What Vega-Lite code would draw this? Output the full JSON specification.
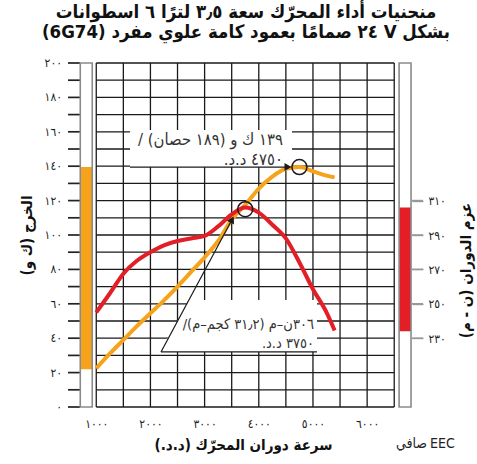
{
  "$schema": "https://vega.github.io/schema/vega-lite/v6.json",
  "autosize": {"type": "none"},
  "padding": {"left": 80, "top": 63, "right": 65, "bottom": 57},
  "width": 332,
  "height": 344,
  "background": "white",
  "config": {
    "view": {"stroke": null},
    "font": "DejaVu Sans Condensed, DejaVu Sans",
    "axis": {"labelFont": "DejaVu Sans Condensed, DejaVu Sans", "titleFont": "DejaVu Sans Condensed, DejaVu Sans", "labelOverlap": false}
  },
  "title": {
    "text": ["\u202bمنحنيات أداء المحرّك سعة ٣٫٥ لترًا ٦ اسطوانات\u202c", "\u202bبشكل V ٢٤ صمامًا بعمود كامة علوي مفرد (6G74)\u202c"],
    "font": "DejaVu Sans Condensed, DejaVu Sans",
    "fontSize": 18.5,
    "fontWeight": "bold",
    "color": "#111111",
    "anchor": "middle",
    "frame": "group",
    "dx": 0,
    "offset": 16,
    "lineHeight": 20
  },
  "datasets": {
    "power": [
      {"rpm": 1000, "kw": 22.5}, {"rpm": 1250, "kw": 31}, {"rpm": 1500, "kw": 39},
      {"rpm": 1750, "kw": 47}, {"rpm": 2000, "kw": 54.5}, {"rpm": 2250, "kw": 62},
      {"rpm": 2500, "kw": 70}, {"rpm": 2750, "kw": 78.5}, {"rpm": 3000, "kw": 87},
      {"rpm": 3250, "kw": 96.5}, {"rpm": 3500, "kw": 109}, {"rpm": 3750, "kw": 117.5},
      {"rpm": 4000, "kw": 127}, {"rpm": 4250, "kw": 134}, {"rpm": 4500, "kw": 138.5},
      {"rpm": 4750, "kw": 139.5}, {"rpm": 5000, "kw": 137}, {"rpm": 5250, "kw": 134.5},
      {"rpm": 5400, "kw": 133.5}
    ],
    "torque": [
      {"rpm": 1000, "nm": 245}, {"rpm": 1250, "nm": 256}, {"rpm": 1500, "nm": 267.5},
      {"rpm": 1750, "nm": 275}, {"rpm": 2000, "nm": 280}, {"rpm": 2250, "nm": 284},
      {"rpm": 2500, "nm": 286.5}, {"rpm": 2750, "nm": 288}, {"rpm": 3000, "nm": 289.5},
      {"rpm": 3250, "nm": 295}, {"rpm": 3500, "nm": 302}, {"rpm": 3750, "nm": 306},
      {"rpm": 4000, "nm": 303}, {"rpm": 4250, "nm": 296}, {"rpm": 4500, "nm": 288},
      {"rpm": 4750, "nm": 274}, {"rpm": 5000, "nm": 258.5}, {"rpm": 5250, "nm": 245},
      {"rpm": 5400, "nm": 234.5}
    ],
    "gridX": [
      {"r": 1000}, {"r": 1500}, {"r": 2000}, {"r": 2500}, {"r": 3000}, {"r": 3500},
      {"r": 4000}, {"r": 4500}, {"r": 5000}, {"r": 5500}, {"r": 6000}, {"r": 6500}
    ],
    "gridY": [
      {"v": 0}, {"v": 10}, {"v": 20}, {"v": 30}, {"v": 40}, {"v": 50}, {"v": 60},
      {"v": 70}, {"v": 80}, {"v": 90}, {"v": 100}, {"v": 110}, {"v": 120}, {"v": 130},
      {"v": 140}, {"v": 150}, {"v": 160}, {"v": 170}, {"v": 180}, {"v": 190}, {"v": 200}
    ],
    "powerLabels": [
      {"v": 0, "lab": "٠"}, {"v": 20, "lab": "٢٠"}, {"v": 40, "lab": "٤٠"}, {"v": 60, "lab": "٦٠"},
      {"v": 80, "lab": "٨٠"}, {"v": 100, "lab": "١٠٠"}, {"v": 120, "lab": "١٢٠"}, {"v": 140, "lab": "١٤٠"},
      {"v": 160, "lab": "١٦٠"}, {"v": 180, "lab": "١٨٠"}, {"v": 200, "lab": "٢٠٠"}
    ],
    "torqueTicks": [{"t": 230}, {"t": 250}, {"t": 270}, {"t": 290}, {"t": 310}],
    "powerRange": [{"lo": 22, "hi": 139.5}],
    "torqueRange": [{"lo": 234, "hi": 306}],
    "powerPeak": [{"rpm": 4750, "kw": 139.5}],
    "torquePeak": [{"rpm": 3750, "nm": 305}]
  },
  "layer": [
    {
      "layer": [
        {
          "data": {"name": "gridY"},
          "mark": {"type": "rule", "stroke": "#1a1a1a", "strokeWidth": 1.3},
          "encoding": {
            "y": {
              "field": "v", "type": "quantitative",
              "scale": {"domain": [0, 200], "nice": false, "zero": false},
              "axis": {
                "orient": "left",
                "values": [0, 20, 40, 60, 80, 100, 120, 140, 160, 180, 200],
                "labels": false,
                "grid": false, "domain": false, "ticks": false,
                "title": "\u202bالخرج (ك و)\u202c",
                "titleFontSize": 15, "titleFontWeight": "bold", "titleColor": "#111111",
                "titleAngle": -90, "titleX": -54, "titleY": 172,
                "titleAlign": "center", "titleBaseline": "middle"
              }
            },
            "x": {
              "datum": 1000, "type": "quantitative",
              "scale": {"domain": [700, 6828], "nice": false, "zero": false},
              "axis": {
                "orient": "bottom",
                "values": [1000, 2000, 3000, 4000, 5000, 6000],
                "format": "d",
                "labelExpr": "join(split(join(split(join(split(join(split(join(split(join(split(join(split(join(split(join(split(join(split(datum.label,'0'),'٠'),'1'),'١'),'2'),'٢'),'3'),'٣'),'4'),'٤'),'5'),'٥'),'6'),'٦'),'7'),'٧'),'8'),'٨'),'9'),'٩')",
                "labelOverlap": false,
                "grid": false, "domain": false, "ticks": false,
                "labelPadding": 11, "labelFontSize": 12, "labelColor": "#222222",
                "title": "\u202bسرعة دوران المحرّك (د.د.)\u202c",
                "titleFontSize": 15, "titleFontWeight": "bold", "titleColor": "#111111",
                "titleX": 163, "titleY": 37, "titleAlign": "center", "titleBaseline": "middle"
              }
            },
            "x2": {"datum": 6500}
          }
        },
        {
          "data": {"name": "gridY"},
          "mark": {"type": "point", "shape": "stroke", "filled": false, "stroke": "#222222", "strokeWidth": 1.7, "size": 144, "opacity": 1},
          "encoding": {
            "y": {"field": "v", "type": "quantitative", "scale": {"domain": [0, 200], "nice": false, "zero": false}},
            "x": {"datum": 589, "type": "quantitative", "scale": {"domain": [700, 6828], "nice": false, "zero": false}}
          }
        },
        {
          "data": {"name": "powerLabels"},
          "mark": {"type": "text", "align": "right", "baseline": "middle", "fontSize": 12, "fill": "#222222"},
          "encoding": {
            "y": {"field": "v", "type": "quantitative", "scale": {"domain": [0, 200], "nice": false, "zero": false}},
            "x": {"datum": 368, "type": "quantitative", "scale": {"domain": [700, 6828], "nice": false, "zero": false}},
            "text": {"field": "lab", "type": "nominal"}
          }
        },
        {
          "data": {"name": "gridX"},
          "mark": {"type": "rule", "stroke": "#1a1a1a", "strokeWidth": 1.3},
          "encoding": {
            "x": {"field": "r", "type": "quantitative", "scale": {"domain": [700, 6828], "nice": false, "zero": false}},
            "y": {"datum": 0, "type": "quantitative", "scale": {"domain": [0, 200], "nice": false, "zero": false}},
            "y2": {"datum": 200}
          }
        },
        {
          "data": {"values": [{}]},
          "mark": {"type": "rect", "fill": "white", "stroke": null},
          "encoding": {
            "x": {"datum": 705, "type": "quantitative"},
            "x2": {"datum": 926},
            "y": {"datum": 0, "type": "quantitative"},
            "y2": {"datum": 200}
          }
        },
        {
          "data": {"name": "powerRange"},
          "mark": {"type": "rect", "fill": "#F6A31B", "stroke": null},
          "encoding": {
            "x": {"datum": 705, "type": "quantitative"},
            "x2": {"datum": 926},
            "y": {"field": "lo", "type": "quantitative"},
            "y2": {"field": "hi"}
          }
        },
        {
          "data": {"values": [{}]},
          "mark": {"type": "rect", "fill": null, "fillOpacity": 0, "stroke": "#8a8a8a", "strokeWidth": 1.6},
          "encoding": {
            "x": {"datum": 705, "type": "quantitative"},
            "x2": {"datum": 926},
            "y": {"datum": 0, "type": "quantitative"},
            "y2": {"datum": 200}
          }
        },
        {
          "data": {"values": [{}]},
          "mark": {"type": "rect", "fill": "white", "stroke": null},
          "encoding": {
            "x": {"datum": 1623, "type": "quantitative"},
            "x2": {"datum": 4613},
            "y": {"datum": 139.5, "type": "quantitative"},
            "y2": {"datum": 161}
          }
        },
        {
          "data": {"name": "power"},
          "mark": {"type": "line", "stroke": "#F6A31B", "strokeWidth": 4, "interpolate": "monotone", "strokeCap": "butt"},
          "encoding": {
            "x": {"field": "rpm", "type": "quantitative"},
            "y": {"field": "kw", "type": "quantitative"}
          }
        },
        {
          "data": {"values": [{}]},
          "mark": {"type": "rule", "stroke": "#1a1a1a", "strokeWidth": 1.2},
          "encoding": {
            "x": {"datum": 1623, "type": "quantitative"},
            "x2": {"datum": 4539},
            "y": {"datum": 139.5, "type": "quantitative"}
          }
        },
        {
          "data": {"values": [{}]},
          "mark": {"type": "point", "shape": "triangle-right", "filled": true, "fill": "#1a1a1a", "stroke": null, "size": 64, "opacity": 1},
          "encoding": {
            "x": {"datum": 4539, "type": "quantitative"},
            "y": {"datum": 139.5, "type": "quantitative"}
          }
        },
        {
          "data": {"name": "powerPeak"},
          "mark": {"type": "point", "shape": "circle", "filled": false, "stroke": "#1a1a1a", "strokeWidth": 1.5, "size": 225, "opacity": 1},
          "encoding": {
            "x": {"field": "rpm", "type": "quantitative"},
            "y": {"field": "kw", "type": "quantitative"}
          }
        },
        {
          "data": {"values": [{}]},
          "mark": {
            "type": "text",
            "text": ["\u202b١٣٩ ك و (١٨٩ حصان) /\u202c", "\u202b٤٧٥٠ د.د.\u202c"],
            "align": "right", "baseline": "middle", "lineHeight": 20,
            "fontSize": 16.5, "fill": "#333333"
          },
          "encoding": {
            "x": {"datum": 4447, "type": "quantitative"},
            "y": {"datum": 155.2, "type": "quantitative"}
          }
        },
        {
          "data": {"values": [{}]},
          "mark": {"type": "text", "text": "صافي", "align": "right", "baseline": "middle", "fontSize": 14, "fill": "#222222"},
          "encoding": {
            "x": {"datum": 7105, "type": "quantitative"},
            "y": {"datum": -21.5, "type": "quantitative"}
          }
        },
        {
          "data": {"values": [{}]},
          "mark": {"type": "text", "text": "EEC", "align": "left", "baseline": "middle", "fontSize": 14, "fill": "#222222"},
          "encoding": {
            "x": {"datum": 7160, "type": "quantitative"},
            "y": {"datum": -21.5, "type": "quantitative"}
          }
        }
      ]
    },
    {
      "layer": [
        {
          "data": {"values": [{}]},
          "mark": {"type": "rect", "fill": "white", "stroke": null},
          "encoding": {
            "x": {"datum": 6590, "type": "quantitative", "scale": {"domain": [700, 6828], "nice": false, "zero": false}},
            "x2": {"datum": 6810},
            "y": {"datum": 190, "type": "quantitative", "scale": {"domain": [190, 390], "nice": false, "zero": false}},
            "y2": {"datum": 390}
          }
        },
        {
          "data": {"name": "torqueRange"},
          "mark": {"type": "rect", "fill": "#E31E26", "stroke": null},
          "encoding": {
            "x": {"datum": 6590, "type": "quantitative"},
            "x2": {"datum": 6810},
            "y": {
              "field": "lo", "type": "quantitative",
              "scale": {"domain": [190, 390], "nice": false, "zero": false},
              "axis": {
                "orient": "right",
                "values": [230, 250, 270, 290, 310],
                "format": "d",
                "labelExpr": "join(split(join(split(join(split(join(split(join(split(join(split(join(split(join(split(join(split(join(split(datum.label,'0'),'٠'),'1'),'١'),'2'),'٢'),'3'),'٣'),'4'),'٤'),'5'),'٥'),'6'),'٦'),'7'),'٧'),'8'),'٨'),'9'),'٩')",
                "labelOverlap": false,
                "grid": false, "domain": false, "ticks": true,
                "tickSize": 11, "tickColor": "#999999", "tickWidth": 1.4, "tickOpacity": 1,
                "labelPadding": 5, "labelFontSize": 12, "labelColor": "#222222",
                "title": "\u202bعزم الدوران (ن - م)\u202c",
                "titleFontSize": 15, "titleFontWeight": "bold", "titleColor": "#111111",
                "titleAngle": -90, "titleX": 53, "titleY": 207,
                "titleAlign": "center", "titleBaseline": "middle"
              }
            },
            "y2": {"field": "hi"}
          }
        },
        {
          "data": {"name": "torqueTicks"},
          "mark": {"type": "point", "shape": "stroke", "filled": false, "stroke": "#999999", "strokeWidth": 1.6, "size": 121, "opacity": 1},
          "encoding": {
            "y": {"field": "t", "type": "quantitative"},
            "x": {"datum": 6930, "type": "quantitative"}
          }
        },
        {
          "data": {"values": [{}]},
          "mark": {"type": "rect", "fill": null, "fillOpacity": 0, "stroke": "#8a8a8a", "strokeWidth": 1.6},
          "encoding": {
            "x": {"datum": 6590, "type": "quantitative"},
            "x2": {"datum": 6810},
            "y": {"datum": 190, "type": "quantitative"},
            "y2": {"datum": 390}
          }
        },
        {
          "data": {"values": [{}]},
          "mark": {"type": "point", "shape": "M-0.9875,0.325L0.975,0.325L0.975,-0.325L-0.625,-0.325Z", "filled": true, "fill": "white", "stroke": null, "size": 25600, "opacity": 1},
          "encoding": {
            "x": {"datum": 3635, "type": "quantitative"},
            "y": {"datum": 237.1, "type": "quantitative"}
          }
        },
        {
          "data": {"values": [{}]},
          "mark": {"type": "rule", "stroke": "#1a1a1a", "strokeWidth": 1.2},
          "encoding": {
            "x": {"datum": 2195, "type": "quantitative"},
            "x2": {"datum": 5074},
            "y": {"datum": 222, "type": "quantitative"}
          }
        },
        {
          "data": {"name": "torque"},
          "mark": {"type": "line", "stroke": "#E31E26", "strokeWidth": 4, "interpolate": "monotone", "strokeCap": "butt"},
          "encoding": {
            "x": {"field": "rpm", "type": "quantitative"},
            "y": {"field": "nm", "type": "quantitative"}
          }
        },
        {
          "data": {"values": [{}]},
          "mark": {"type": "rule", "stroke": "#1a1a1a", "strokeWidth": 1.2},
          "encoding": {
            "x": {"datum": 2195, "type": "quantitative"},
            "y": {"datum": 222, "type": "quantitative"},
            "x2": {"datum": 3507},
            "y2": {"datum": 299}
          }
        },
        {
          "data": {"values": [{}]},
          "mark": {"type": "point", "shape": "triangle-up", "angle": 28, "filled": true, "fill": "#1a1a1a", "stroke": null, "size": 64, "opacity": 1},
          "encoding": {
            "x": {"datum": 3507, "type": "quantitative"},
            "y": {"datum": 299, "type": "quantitative"}
          }
        },
        {
          "data": {"name": "torquePeak"},
          "mark": {"type": "point", "shape": "circle", "filled": false, "stroke": "#1a1a1a", "strokeWidth": 1.5, "size": 225, "opacity": 1},
          "encoding": {
            "x": {"field": "rpm", "type": "quantitative"},
            "y": {"field": "nm", "type": "quantitative"}
          }
        },
        {
          "data": {"values": [{}]},
          "mark": {
            "type": "text",
            "text": ["\u202b٣٠٦ن–م (٣١٫٢ كجم–م)/\u202c", "\u202b٣٧٥٠ د.د.\u202c"],
            "align": "right", "baseline": "middle", "lineHeight": 19,
            "fontSize": 14.5, "fill": "#333333"
          },
          "encoding": {
            "x": {"datum": 5019, "type": "quantitative"},
            "y": {"datum": 237.67, "type": "quantitative"}
          }
        }
      ]
    }
  ],
  "resolve": {"scale": {"y": "independent"}, "axis": {"y": "independent"}}
}
